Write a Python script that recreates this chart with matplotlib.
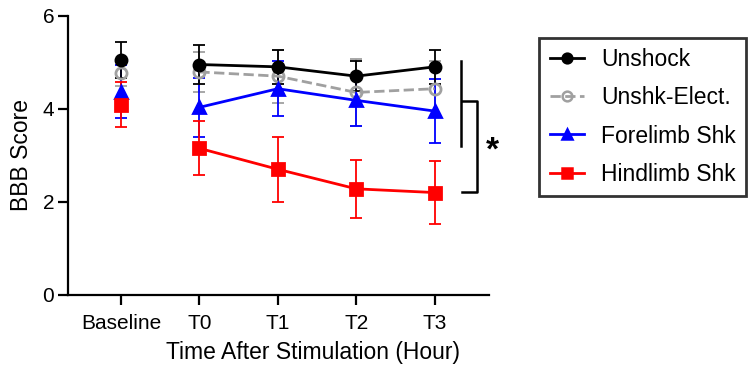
import numpy as np
import matplotlib
matplotlib.use('Agg')
import matplotlib.pyplot as plt
from matplotlib.lines import Line2D

plt.rcParams['font.family'] = ['Liberation Sans', 'DejaVu Sans']

timepoints = ['Baseline', 'T0', 'T1', 'T2', 'T3']
groups = ['Unshock', 'Unshk-Elect.', 'Forelimb Shk', 'Hindlimb Shk']

unshock = [5.05, 4.95, 4.90, 4.70, 4.90]
unshock_err = [0.38, 0.41, 0.36, 0.32, 0.36]
elect = [4.77, 4.79, 4.70, 4.35, 4.43]
elect_err = [0.28, 0.42, 0.57, 0.72, 0.60]
forelimb = [4.37, 4.03, 4.43, 4.18, 3.95]
forelimb_err = [0.56, 0.64, 0.59, 0.55, 0.68]
hindlimb = [4.09, 3.15, 2.70, 2.28, 2.20]
hindlimb_err = [0.49, 0.58, 0.70, 0.62, 0.68]

fig = plt.figure(figsize=(7.5, 3.72), dpi=100)
ax = fig.add_axes([0.0907, 0.207, 0.561, 0.751])

x = np.arange(len(timepoints))
series = [
    # name, values, errors, color, marker, linestyle, facecolor
    ('Unshk-Elect.', elect, elect_err, '#a0a0a0', 'o', '--', 'none'),
    ('Forelimb Shk', forelimb, forelimb_err, '#0000ff', '^', '-', '#0000ff'),
    ('Hindlimb Shk', hindlimb, hindlimb_err, '#ff0000', 's', '-', '#ff0000'),
    ('Unshock', unshock, unshock_err, '#000000', 'o', '-', '#000000'),
]

handles = {}
for name, vals, errs, col, mk, ls, fc in series:
    ax.errorbar(x, vals, yerr=errs, fmt='none', ecolor=col, elinewidth=1.3,
                capsize=4.5, capthick=1.3, zorder=2)
    # baseline is not joined to the post-stimulation line
    ax.plot(x[1:], vals[1:], color=col, linestyle=ls, linewidth=2, zorder=3)
    ax.plot(x, vals, linestyle='none', marker=mk, markersize=8, color=col,
            markerfacecolor=fc, markeredgewidth=2, zorder=4)
    handles[name] = Line2D([], [], color=col, linestyle=ls, linewidth=2,
                           marker=mk, markersize=7, markerfacecolor=fc,
                           markeredgewidth=1.8)

ax.set_xlim(-0.675, 4.69)
ax.set_ylim(0, 6)
ax.set_yticks([0, 2, 4, 6])
ax.set_xticks(x)
ax.set_xticklabels(timepoints)
ax.tick_params(axis='both', labelsize=15, width=1.6, length=7, direction='out',
               pad=3)
ax.tick_params(axis='x', pad=7)
for s in ['top', 'right']:
    ax.spines[s].set_visible(False)
for s in ['left', 'bottom']:
    ax.spines[s].set_linewidth(1.6)

ax.set_xlabel('Time After Stimulation (Hour)', fontsize=16.5, labelpad=7)
ax.xaxis.set_label_coords(0.582, -0.165)
ax.set_ylabel('BBB Score', fontsize=16.5, labelpad=7)

# significance brackets
kw = dict(color='black', linewidth=1.8, clip_on=False)
ax.plot([4.34, 4.34], [5.02, 3.21], **kw)
ax.plot([4.35, 4.54, 4.54, 4.35], [4.16, 4.16, 2.22, 2.22], **kw)
ax.text(4.74, 3.1, '*', fontsize=24, fontweight='bold', ha='center',
        va='center', clip_on=False)

leg = fig.legend([handles[g] for g in groups], groups, loc='upper left',
                 bbox_to_anchor=(0.719, 0.898), fontsize=16.5, frameon=True,
                 fancybox=False, edgecolor='black', handlelength=1.5,
                 handletextpad=0.75, labelspacing=0.66, borderpad=0.45,
                 borderaxespad=0)
leg.get_frame().set_linewidth(2)

fig.savefig('out.png', dpi=100)
